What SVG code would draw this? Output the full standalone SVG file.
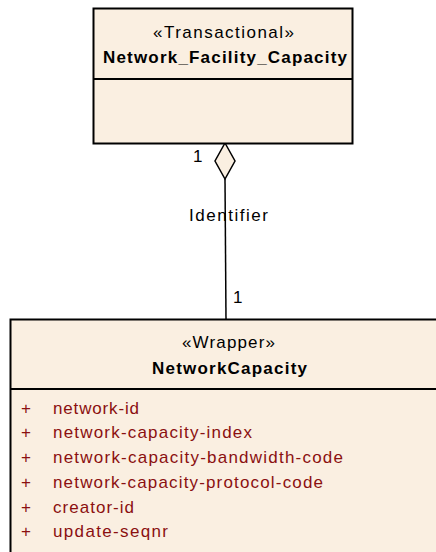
<svg xmlns="http://www.w3.org/2000/svg" width="436" height="552" viewBox="0 0 436 552">
<style>
.box{fill:#FAEFE1;stroke:#000;stroke-width:2}
.div{stroke:#000;stroke-width:2}
.st{font-family:"Liberation Sans",Arial,sans-serif;font-size:17px;fill:#000;text-anchor:middle}
.nm{font-family:"Liberation Sans",Arial,sans-serif;font-size:17px;font-weight:bold;fill:#000;text-anchor:middle}
.at{font-family:"Liberation Sans",Arial,sans-serif;font-size:17px;fill:#8B1010}
.lb{font-family:"Liberation Sans",Arial,sans-serif;font-size:17px;fill:#000}
.ln{stroke:#000;stroke-width:1.5;fill:none}
</style>
<rect width="436" height="552" fill="#fff"/>
<g id="connectors">
<line class="ln" x1="225" y1="179" x2="226" y2="319"/>
<polygon points="225,143 235,161 225,179 215,161" fill="#FAEFE1" stroke="#000" stroke-width="1.5"/>
<text class="lb" x="193" y="162">1</text>
<text class="lb" x="189" y="221" textLength="79" lengthAdjust="spacing">Identifier</text>
<text class="lb" x="233" y="303">1</text>
</g>
<g id="Network_Facility_Capacity">
<rect class="box" x="93.5" y="8.5" width="259" height="135"/>
<line class="div" x1="93.5" y1="79" x2="352.5" y2="79"/>
<text class="st" x="223.5" y="38" textLength="141" lengthAdjust="spacing">«Transactional»</text>
<text class="nm" x="225" y="63" textLength="244" lengthAdjust="spacing">Network_Facility_Capacity</text>
</g>
<g id="NetworkCapacity">
<rect class="box" x="10.5" y="319.5" width="440" height="250"/>
<line class="div" x1="10.5" y1="389" x2="440" y2="389"/>
<text class="st" x="228.5" y="348" textLength="93" lengthAdjust="spacing">«Wrapper»</text>
<text class="nm" x="229.5" y="374" textLength="155" lengthAdjust="spacing">NetworkCapacity</text>
<text class="at" x="21" y="414">+</text>
<text class="at" x="53" y="414" textLength="86" lengthAdjust="spacing">network-id</text>
<text class="at" x="21" y="438">+</text>
<text class="at" x="53" y="438" textLength="199" lengthAdjust="spacing">network-capacity-index</text>
<text class="at" x="21" y="463">+</text>
<text class="at" x="53" y="463" textLength="290" lengthAdjust="spacing">network-capacity-bandwidth-code</text>
<text class="at" x="21" y="488">+</text>
<text class="at" x="53" y="488" textLength="270" lengthAdjust="spacing">network-capacity-protocol-code</text>
<text class="at" x="21" y="513">+</text>
<text class="at" x="53" y="513" textLength="81" lengthAdjust="spacing">creator-id</text>
<text class="at" x="21" y="537">+</text>
<text class="at" x="53" y="537" textLength="115" lengthAdjust="spacing">update-seqnr</text>
</g>
</svg>
